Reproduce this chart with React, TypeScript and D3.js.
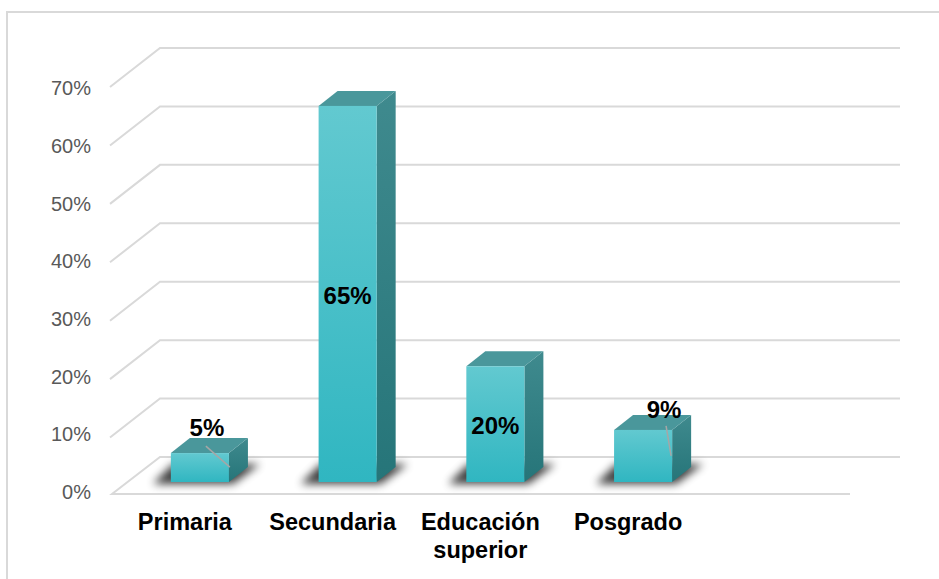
import React from "react";
import * as d3 from "d3";

const categories = ["Primaria", "Secundaria", "Educación superior", "Posgrado"];
const values = [5, 65, 20, 9];
const tickValues = [0, 10, 20, 30, 40, 50, 60, 70];

const W = 939;
const H = 579;

// back wall and floor
const wallLeft = 160;
const wallRight = 900;
const floorFrontRight = 850;
const depthX = 50;
const depthY = 38;
// bar depth
const barDX = 19;
const barDY = 15;

const yWall = d3.scaleLinear().domain([0, 70]).range([457, 48]);
const yBar = d3.scaleLinear().domain([0, 70]).range([482, 77]);
const yLabel = d3.scaleLinear().domain([0, 70]).range([492, 88]);
const x = d3
  .scaleBand<string>()
  .domain(categories)
  .range([97, 746])
  .paddingInner(0.607)
  .paddingOuter(0.5);

// label placement tweaks (outside / inside bar)
const labelPos: Record<string, { dx: number; dy: number; leader?: number[] }> = {
  Primaria: { dx: 7, dy: -26, leader: [35, -7, 59, 14] },
  Secundaria: { dx: 0, dy: 189 },
  "Educación superior": { dx: 0, dy: 59 },
  Posgrado: { dx: 21, dy: -21, leader: [52, -4, 57, 26] },
};

const fmt = (v: number) => `${v}%`;

export default function App() {
  const bw = x.bandwidth();
  return (
    <svg
      width={W}
      height={H}
      style={{ position: "absolute", left: 0, top: 0, background: "#fff" }}
      fontFamily="Arial, 'Liberation Sans', sans-serif"
    >
      <defs>
        <linearGradient id="front" x1="0" y1="0" x2="0" y2="1">
          <stop offset="0%" stopColor="#62c9d0" />
          <stop offset="100%" stopColor="#30b6c1" />
        </linearGradient>
        <linearGradient id="side" x1="0" y1="0" x2="0" y2="1">
          <stop offset="0%" stopColor="#3f8a8e" />
          <stop offset="100%" stopColor="#267579" />
        </linearGradient>
        <filter id="blur" x="-50%" y="-50%" width="200%" height="200%">
          <feGaussianBlur stdDeviation="4" />
        </filter>
      </defs>

      <rect x={7} y={12} width={W + 10} height={H + 10} fill="none" stroke="#d9d9d9" strokeWidth={2} />

      {/* gridlines */}
      {tickValues.map((t) => {
        const yb = yWall(t);
        const pts =
          t === 0
            ? `${floorFrontRight},${yb + depthY - 1} ${wallLeft - depthX + 2},${yb + depthY - 1} ${wallLeft},${yb} ${wallRight},${yb}`
            : `${wallLeft - depthX},${yb + depthY + 1} ${wallLeft},${yb} ${wallRight},${yb}`;
        return <polyline key={t} points={pts} fill="none" stroke="#d9d9d9" strokeWidth={2} />;
      })}

      {/* y tick labels */}
      {tickValues.map((t) => (
        <text key={t} x={91} y={yLabel(t)} dy="0.36em" textAnchor="end" fontSize={20} fill="#595959">
          {fmt(t)}
        </text>
      ))}

      {/* shadows */}
      {categories.map((c) => {
        const x0 = x(c)!;
        const yb = yBar(0);
        const pts = `${x0 - 18},${yb + 2} ${x0 + bw + 4},${yb + 2} ${x0 + bw + barDX + 12},${yb - barDY - 3} ${x0 + 2},${yb - barDY - 3}`;
        return <polygon key={c} points={pts} fill="#000" opacity={0.75} filter="url(#blur)" />;
      })}

      {/* bars */}
      {categories.map((c, i) => {
        const x0 = x(c)!;
        const x1 = x0 + bw;
        const yt = yBar(values[i]);
        const yb = yBar(0);
        return (
          <g key={c}>
            <polygon
              points={`${x1},${yt} ${x1 + barDX},${yt - barDY} ${x1 + barDX},${yb - barDY} ${x1},${yb}`}
              fill="url(#side)"
            />
            <polygon
              points={`${x0},${yt} ${x0 + barDX},${yt - barDY} ${x1 + barDX},${yt - barDY} ${x1},${yt}`}
              fill="#4a979b"
            />
            <rect x={x0} y={yt} width={bw} height={yb - yt} fill="url(#front)" />
          </g>
        );
      })}

      {/* value labels */}
      {categories.map((c, i) => {
        const x0 = x(c)!;
        const yt = yBar(values[i]);
        const p = labelPos[c];
        return (
          <g key={c}>
            {p.leader && (
              <line
                x1={x0 + p.leader[0]}
                y1={yt + p.leader[1]}
                x2={x0 + p.leader[2]}
                y2={yt + p.leader[3]}
                stroke="#a6a6a6"
                strokeWidth={1.5}
              />
            )}
            <text
              x={x0 + bw / 2 + p.dx}
              y={yt + p.dy}
              dy="0.36em"
              textAnchor="middle"
              fontSize={24}
              fontWeight="bold"
              fill="#000"
            >
              {fmt(values[i])}
            </text>
          </g>
        );
      })}

      {/* category labels */}
      {categories.map((c) => {
        const cx = x(c)! + bw / 2 - 15;
        const words = c === "Educación superior" ? ["Educación", "superior"] : [c];
        return (
          <text key={c} x={cx} y={530} textAnchor="middle" fontSize={23.5} fontWeight="bold" fill="#000">
            {words.map((w, k) => (
              <tspan key={k} x={cx} dy={k === 0 ? 0 : 28}>
                {w}
              </tspan>
            ))}
          </text>
        );
      })}
    </svg>
  );
}
